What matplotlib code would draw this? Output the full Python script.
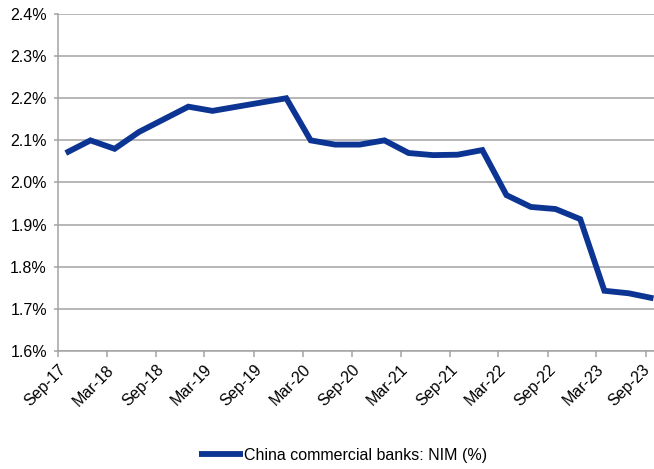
import matplotlib
matplotlib.use('Agg')
import matplotlib.pyplot as plt
import matplotlib.dates as mdates
import matplotlib.ticker as mticker
import matplotlib.transforms as mtransforms
import pandas as pd

plt.rcParams['font.family'] = ['Liberation Sans', 'DejaVu Sans']

## Quarter-end dates, Sep-17 .. Sep-23
quarters = pd.date_range('2017-09-30', '2023-09-30', freq='QE')

## China commercial banks net interest margin (%)
nim = [2.07, 2.10, 2.08, 2.12, 2.15, 2.18, 2.17, 2.18, 2.19, 2.20,
       2.10, 2.09, 2.09, 2.10, 2.07, 2.065, 2.066, 2.077, 1.97, 1.942,
       1.937, 1.913, 1.743, 1.737, 1.725]

seriesName = 'China commercial banks: NIM (%)'
lineColor = '#0c3492'
gridColor = '#a3a3a3'
fsize = 11.5

fig = plt.figure(figsize=(6.54, 4.69), dpi=100)
ax = fig.add_axes([58/654, 1-351/469, 1-58/654, 337/469])

ax.plot(quarters, nim, color=lineColor, lw=4.2, solid_capstyle='butt',
        solid_joinstyle='miter', label=seriesName, clip_on=True)

ax.set_ylim(1.6, 2.4)
ax.yaxis.set_major_locator(mticker.MultipleLocator(0.1))
ax.yaxis.set_major_formatter(mticker.FuncFormatter(lambda v, p: '{:.1f}%'.format(v)))
ax.grid(axis='y', color=gridColor, lw=1.1)
ax.set_axisbelow(True)

ax.set_xlim(pd.Timestamp('2017-09-01'), pd.Timestamp('2023-10-02'))
ax.xaxis.set_major_locator(mdates.MonthLocator(bymonth=[3, 9]))
ax.xaxis.set_major_formatter(mdates.DateFormatter('%b-%y'))

for side in ['top', 'right']:
    ax.spines[side].set_visible(False)
for side in ['left', 'bottom']:
    ax.spines[side].set_color(gridColor)
    ax.spines[side].set_linewidth(1.1)

ax.tick_params(axis='y', length=3, width=1.1, color=gridColor, labelsize=fsize, pad=5)
ax.tick_params(axis='x', length=4, width=1.1, color=gridColor, labelsize=fsize, pad=4)
xlabels = ax.get_xticklabels()
for lab in xlabels:
    lab.set_rotation(45)
    lab.set_ha('right')
    lab.set_va('top')
    lab.set_rotation_mode('anchor')
# pull the last label back so it stays inside the figure
pullBack = mtransforms.ScaledTranslation(-4/100, 0, fig.dpi_scale_trans)
xlabels[-1].set_transform(xlabels[-1].get_transform() + pullBack)

fig.legend(loc='center', bbox_to_anchor=(0.525, 1-455/469), frameon=False,
           fontsize=fsize, handlelength=2.7, handletextpad=0.1)

fig.savefig('out.png', dpi=100)
